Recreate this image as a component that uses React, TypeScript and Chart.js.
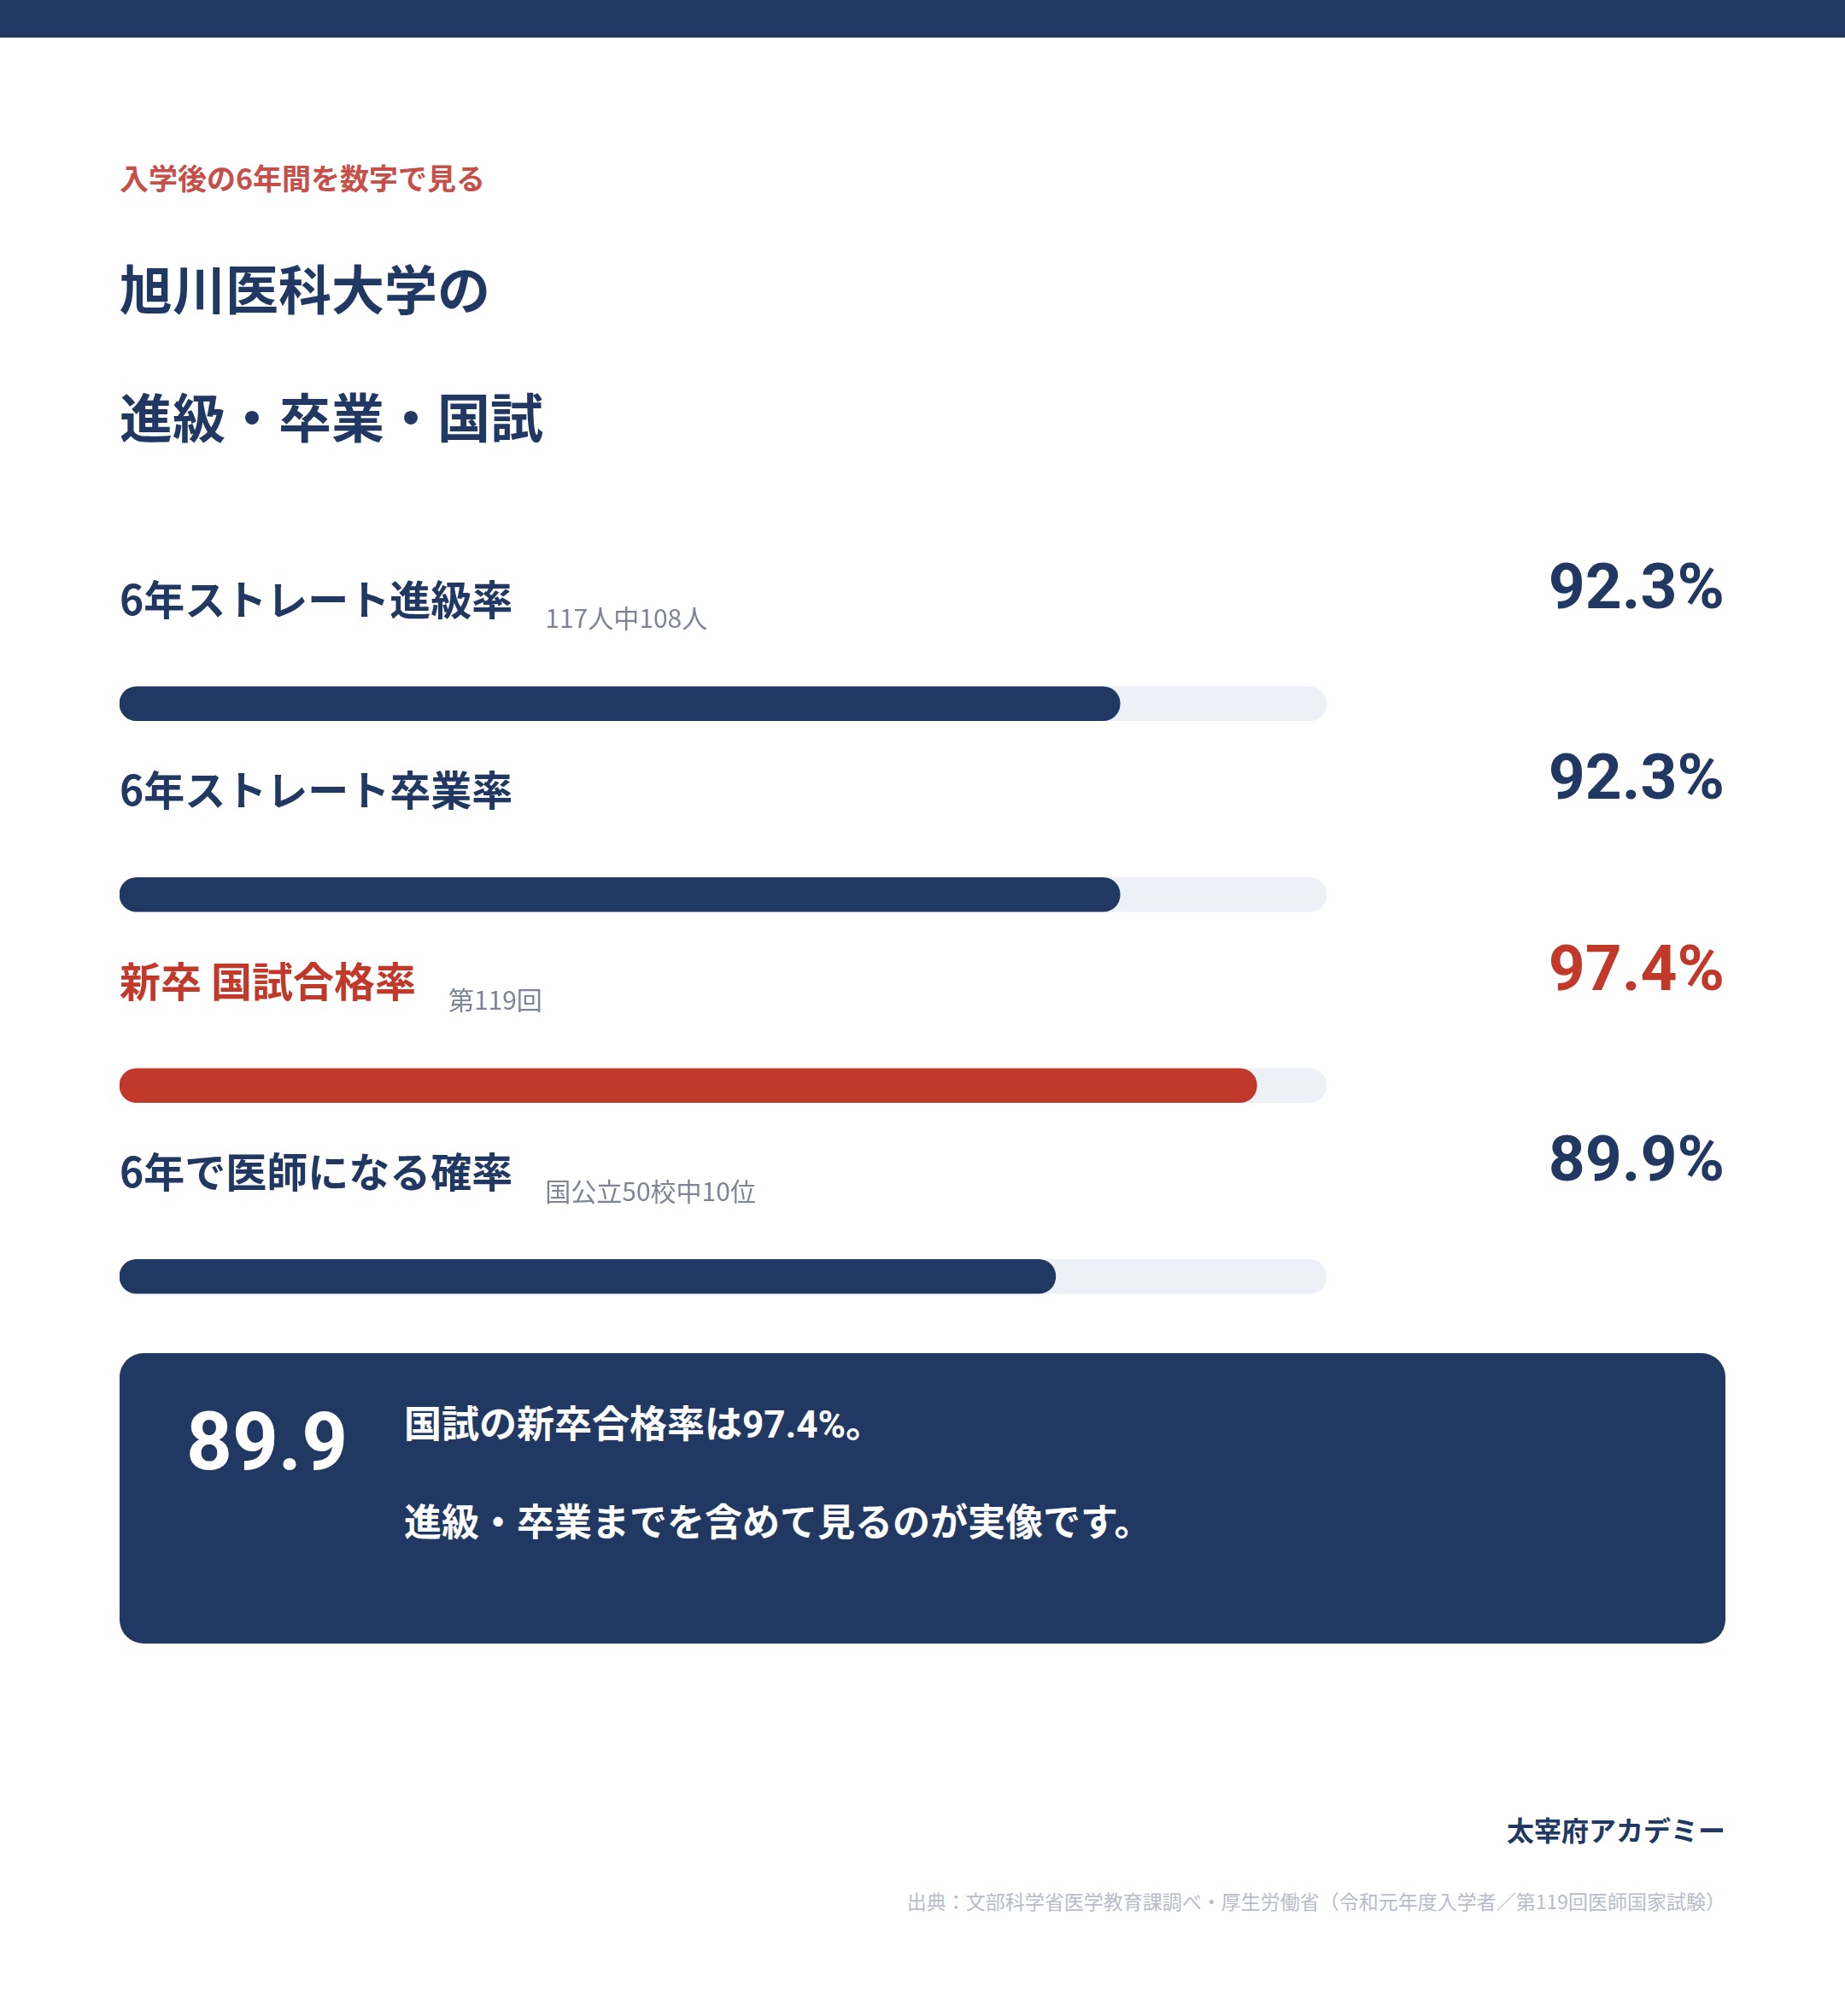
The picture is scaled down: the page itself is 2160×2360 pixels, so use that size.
import React, { useEffect, useRef } from "react";
import { Chart, registerables } from "chart.js";

Chart.register(...registerables);

// rows, top to bottom
const rowLabels = ["6年ストレート進級率", "6年ストレート卒業率", "新卒 国試合格率", "6年で医師になる確率"];
const rowNotes = ["117人中108人", "", "第119回", "国公立50校中10位"];
const rates = [92.3, 92.3, 97.4, 89.9];
const trackValues = [100, 100, 100, 100];
const scaleMin = 55;
const scaleMax = 100;
const HIGHLIGHT = 2;

const NAVY = "#213862";
const RED = "#c0392b";
const TRACK = "#edf0f7";
const NOTE_GRAY = "#7d8595";
const JP = '"Noto Sans CJK JP", "Noto Sans", sans-serif';
const NUM = 'Roboto, "Liberation Sans", Arial, sans-serif';

const rowText = {
	id: "rowText",
	afterDatasetsDraw(chart: any) {
		const { ctx, chartArea } = chart;
		const meta = chart.getDatasetMeta(0);
		ctx.save();
		meta.data.forEach((bar: any, i: number) => {
			const color = i === HIGHLIGHT ? RED : NAVY;
			const y = bar.y;
			ctx.textAlign = "left";
			ctx.textBaseline = "middle";
			ctx.fillStyle = color;
			ctx.font = `700 48px ${JP}`;
			ctx.fillText(rowLabels[i], chartArea.left, y - 122);
			if (rowNotes[i]) {
				const w = ctx.measureText(rowLabels[i]).width;
				ctx.font = `400 30px ${JP}`;
				ctx.fillStyle = NOTE_GRAY;
				ctx.fillText(rowNotes[i], chartArea.left + w + 38, y - 100);
			}
			// percentage on the right
			ctx.font = `700 75px ${NUM}`;
			ctx.textAlign = "right";
			ctx.textBaseline = "alphabetic";
			ctx.fillStyle = color;
			ctx.fillText(`${rates[i].toFixed(1)}%`, chart.width - 1, y - 112);
		});
		ctx.restore();
	},
};

const RateBars: React.FC = () => {
	const chartRef = useRef<HTMLCanvasElement>(null);
	const chartInstance = useRef<Chart>();

	useEffect(() => {
		if (!chartRef.current) return;
		chartInstance.current = new Chart(chartRef.current, {
			type: "bar",
			data: {
				labels: rowLabels,
				datasets: [
					{
						data: rates,
						backgroundColor: rates.map((_, i) => (i === HIGHLIGHT ? RED : NAVY)),
						base: scaleMin,
						grouped: false,
						barThickness: 40,
						borderRadius: 20,
						borderSkipped: false,
					},
					{
						data: trackValues,
						backgroundColor: TRACK,
						base: scaleMin,
						grouped: false,
						barThickness: 40,
						borderRadius: 20,
						borderSkipped: false,
					},
				],
			} as any,
			options: {
				indexAxis: "y",
				responsive: true,
				maintainAspectRatio: false,
				animation: false,
				events: [],
				layout: { padding: { top: 92, right: 467, left: 0, bottom: 0 } },
				scales: {
					x: { min: scaleMin, max: scaleMax, display: false },
					y: { display: false, offset: true },
				},
				plugins: {
					legend: { display: false },
					tooltip: { enabled: false },
				},
			},
			plugins: [rowText],
		});

		return () => {
			if (chartInstance.current) {
				chartInstance.current.destroy();
			}
		};
	}, []);

	return (
		<div style={{ position: "absolute", left: 140, top: 620, width: 1880, height: 986 }}>
			<canvas ref={chartRef} />
		</div>
	);
};

const App: React.FC = () => {
	const abs = (o: React.CSSProperties): React.CSSProperties => ({ position: "absolute", whiteSpace: "nowrap", ...o });
	const boxLine: React.CSSProperties = {
		fontSize: 44,
		lineHeight: "44px",
		fontWeight: 700,
		fontFamily: `Roboto, ${JP}`,
		color: "#ffffff",
	};
	return (
		<div
			style={{
				position: "absolute",
				left: 0,
				top: 0,
				width: 2160,
				height: 2360,
				background: "#ffffff",
				overflow: "hidden",
				fontFamily: JP,
			}}
		>
			<div style={abs({ left: 0, top: 0, width: 2160, height: 44, background: NAVY })} />
			<div style={abs({ left: 140, top: 191, fontSize: 34, lineHeight: "34px", fontWeight: 700, color: "#c64f4a" })}>
				入学後の6年間を数字で見る
			</div>
			<div style={abs({ left: 140, top: 305, fontSize: 62, lineHeight: "62px", fontWeight: 700, color: NAVY })}>
				旭川医科大学の
			</div>
			<div style={abs({ left: 140, top: 455, fontSize: 62, lineHeight: "62px", fontWeight: 700, color: NAVY })}>
				進級・卒業・国試
			</div>

			<RateBars />

			<div style={abs({ left: 140, top: 1584, width: 1880, height: 340, background: NAVY, borderRadius: 28 })}>
				<div
					style={abs({
						left: 78,
						top: 57,
						fontSize: 94,
						lineHeight: "94px",
						fontWeight: 700,
						fontFamily: NUM,
						color: "#ffffff",
					})}
				>
					89.9
				</div>
				<div style={abs({ left: 333, top: 62, ...boxLine })}>国試の新卒合格率は97.4%。</div>
				<div style={abs({ left: 333, top: 177, ...boxLine })}>進級・卒業までを含めて見るのが実像です。</div>
			</div>

			<div style={abs({ right: 140, top: 2125, fontSize: 32, lineHeight: "32px", fontWeight: 700, color: NAVY })}>
				太宰府アカデミー
			</div>
			<div style={abs({ right: 140, top: 2214, fontSize: 23, lineHeight: "23px", fontWeight: 400, color: "#b7bcc8" })}>
				出典：文部科学省医学教育課調べ・厚生労働省（令和元年度入学者／第119回医師国家試験）
			</div>
		</div>
	);
};

export default App;
